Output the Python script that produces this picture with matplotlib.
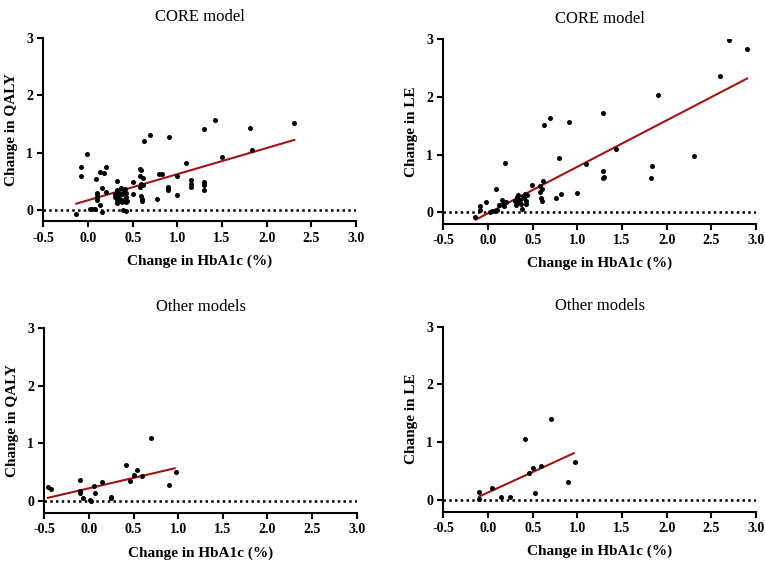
import matplotlib
matplotlib.use('Agg')
import matplotlib.pyplot as plt
import numpy as np

plt.rcParams['font.family'] = ['Liberation Serif', 'DejaVu Serif']
plt.rcParams['axes.unicode_minus'] = False

# CORE model - QALY
core_qaly_x = [-0.13, -0.08, -0.08, -0.01, 0.02, 0.05, 0.08, 0.09, 0.1, 0.1, 0.1, 0.1,
               0.13, 0.13, 0.16, 0.16, 0.18, 0.2, 0.2,
               0.3, 0.3, 0.32, 0.32, 0.33, 0.33, 0.34, 0.35, 0.35, 0.36, 0.37, 0.38, 0.38,
               0.4, 0.4, 0.41, 0.42, 0.43, 0.43, 0.44, 0.39, 0.43,
               0.5, 0.5, 0.58, 0.59, 0.58, 0.59, 0.58, 0.59, 0.6, 0.6, 0.62, 0.62,
               0.63, 0.69, 0.77, 0.8, 0.83, 0.9, 0.9, 0.9, 0.91, 1.0, 1.0, 1.1,
               1.15, 1.15, 1.15, 1.3, 1.3, 1.3, 1.3, 1.3, 1.42, 1.5, 1.81, 1.84, 2.31]
core_qaly_y = [-0.07, 0.75, 0.59, 0.97, 0.01, 0.01, 0.02, 0.54, 0.17, 0.22, 0.28, 0.3,
               0.67, 0.08, -0.04, 0.38, 0.64, 0.75, 0.32,
               0.28, 0.22, 0.35, 0.18, 0.5, 0.12, 0.25, 0.3, 0.15, 0.2, 0.38, 0.14, 0.27,
               0.33, 0.17, 0.36, 0.22, 0.14, 0.3, 0.16, 0.0, -0.01,
               0.48, 0.28, 0.72, 0.7, 0.6, 0.45, 0.4, 0.25, 0.2, 0.15, 0.55, 0.43,
               1.2, 1.31, 0.2, 0.63, 0.63, 0.35, 0.38, 0.4, 1.27, 0.6, 0.26, 0.82,
               0.4, 0.46, 0.52, 0.34, 0.43, 0.46, 0.48, 1.41, 1.56, 0.92, 1.43, 1.05, 1.51]
core_qaly_fit_x = [-0.13, 2.31]
core_qaly_fit_y = [0.11, 1.22]

# CORE model - LE
core_le_x = [-0.14, -0.09, -0.09, -0.02, 0.02, 0.05, 0.08, 0.09, 0.1, 0.12,
             0.16, 0.17, 0.18, 0.19, 0.2,
             0.3, 0.31, 0.32, 0.33, 0.34, 0.35, 0.36, 0.37, 0.38, 0.39, 0.4, 0.41, 0.42, 0.43, 0.44,
             0.49, 0.58, 0.58, 0.59, 0.6, 0.6, 0.62, 0.63, 0.69, 0.76, 0.8, 0.82,
             0.91, 1.0, 1.1, 1.29, 1.29, 1.29, 1.3, 1.43, 1.82, 1.84, 1.9, 2.31, 2.6, 2.7, 2.9]
core_le_y = [-0.09, 0.1, 0.04, 0.17, 0.01, 0.02, 0.03, 0.4, 0.04, 0.13,
             0.21, 0.15, 0.1, 0.86, 0.18,
             0.2, 0.12, 0.27, 0.24, 0.3, 0.18, 0.22, 0.15, 0.05, 0.28, 0.25, 0.32, 0.2, 0.14, 0.3,
             0.47, 0.45, 0.35, 0.25, 0.2, 0.4, 0.54, 1.52, 1.63, 0.24, 0.94, 0.31,
             1.57, 0.33, 0.83, 1.73, 0.72, 0.6, 0.62, 1.09, 0.6, 0.8, 2.04, 0.98, 2.36, 2.99, 2.83]
core_le_fit_x = [-0.14, 2.9]
core_le_fit_y = [-0.13, 2.32]

# Other models - QALY
other_qaly_x = [-0.46, -0.42, -0.1, -0.1, -0.1, -0.07, 0.01, 0.02, 0.06, 0.07, 0.15,
                0.25, 0.25, 0.41, 0.46, 0.5, 0.54, 0.6, 0.7, 0.9, 0.97]
other_qaly_y = [0.24, 0.21, 0.37, 0.18, 0.15, 0.06, 0.02, 0.01, 0.26, 0.15, 0.33,
                0.08, 0.05, 0.62, 0.35, 0.46, 0.54, 0.43, 1.09, 0.29, 0.5]
other_qaly_fit_x = [-0.46, 0.96]
other_qaly_fit_y = [0.06, 0.57]

# Other models - LE
other_le_x = [-0.1, -0.1, 0.05, 0.15, 0.25, 0.41, 0.46, 0.5, 0.53, 0.59, 0.7, 0.9, 0.97]
other_le_y = [0.14, 0.02, 0.2, 0.05, 0.06, 1.05, 0.46, 0.55, 0.12, 0.59, 1.41, 0.32, 0.65]
other_le_fit_x = [-0.1, 0.96]
other_le_fit_y = [0.06, 0.81]

panels = [
    ([0.0566, 0.6066, 0.4088, 0.3265], core_qaly_x, core_qaly_y, core_qaly_fit_x, core_qaly_fit_y,
     'CORE model', 'Change in QALY'),
    ([0.5795, 0.6025, 0.4088, 0.3277], core_le_x, core_le_y, core_le_fit_x, core_le_fit_y,
     'CORE model', 'Change in LE'),
    ([0.0579, 0.0890, 0.4084, 0.3290], other_qaly_x, other_qaly_y, other_qaly_fit_x, other_qaly_fit_y,
     'Other models', 'Change in QALY'),
    ([0.5795, 0.0913, 0.4088, 0.3284], other_le_x, other_le_y, other_le_fit_x, other_le_fit_y,
     'Other models', 'Change in LE'),
]

fig = plt.figure(figsize=(7.65, 5.63), dpi=100)

for rect, x, y, fx, fy, title, ylabel in panels:
    ax = fig.add_axes(rect)
    # dotted zero line
    ax.axhline(0, color='black', linestyle=(0, (1, 1.3)), linewidth=1.8, zorder=1)
    ax.scatter(x, y, s=13, color='black', zorder=3, linewidths=0)
    ax.plot(fx, fy, color='#a01313', linewidth=1.5, zorder=2)
    ax.set_xlim(-0.5, 3.0)
    ax.set_ylim(-0.2, 3)
    ax.set_xticks(np.arange(-0.5, 3.01, 0.5))
    ax.set_xticklabels(['%.1f' % v for v in np.arange(-0.5, 3.01, 0.5)])
    ax.set_yticks([0, 1, 2, 3])
    for side in ['top', 'right']:
        ax.spines[side].set_visible(False)
    for side in ['left', 'bottom']:
        ax.spines[side].set_linewidth(1.5)
    ax.tick_params(direction='out', length=4, width=1.5, labelsize=10)
    for lab in ax.get_xticklabels() + ax.get_yticklabels():
        lab.set_fontweight('bold')
    ax.set_title(title, fontsize=12, pad=12)
    ax.set_xlabel('Change in HbA1c (%)', fontsize=11, fontweight='bold', labelpad=7)
    ax.set_ylabel(ylabel, fontsize=11, fontweight='bold', labelpad=6)

fig.savefig('out.png', dpi=100)
